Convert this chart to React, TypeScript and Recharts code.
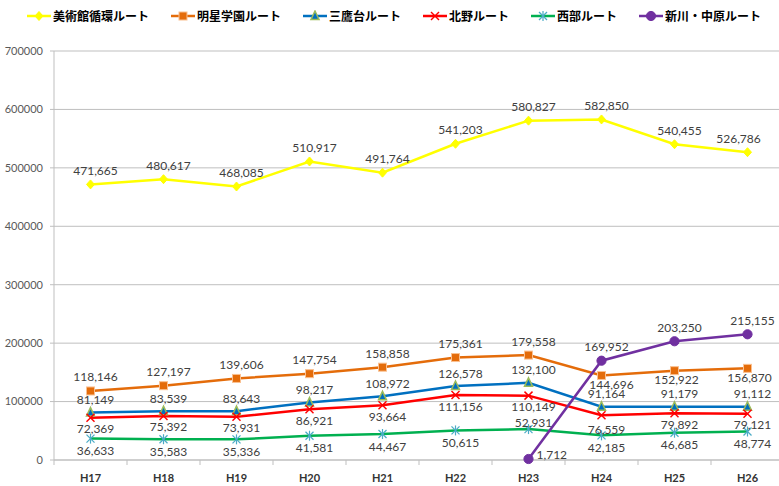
import React from "react";
import { CartesianGrid, LabelList, Line, LineChart, XAxis, YAxis } from "recharts";

// fiscal years (Heisei)
const years = ["H17", "H18", "H19", "H20", "H21", "H22", "H23", "H24", "H25", "H26"];

// riders per year, per route
const bijutsukan = [471665, 480617, 468085, 510917, 491764, 541203, 580827, 582850, 540455, 526786];
const meisei = [118146, 127197, 139606, 147754, 158858, 175361, 179558, 144696, 152922, 156870];
const mitakadai = [81149, 83539, 83643, 98217, 108972, 126578, 132100, 91164, 91179, 91112];
const kitano = [72369, 75392, 73931, 86921, 93664, 111156, 110149, 76559, 79892, 79121];
const seibu = [36633, 35583, 35336, 41581, 44467, 50615, 52931, 42185, 46685, 48774];
const shinkawa = [null, null, null, null, null, null, 1712, 169952, 203250, 215155];

const yTicks = [0, 100000, 200000, 300000, 400000, 500000, 600000, 700000];

const data = years.map((year, i) => ({
  year,
  bijutsukan: bijutsukan[i],
  meisei: meisei[i],
  mitakadai: mitakadai[i],
  kitano: kitano[i],
  seibu: seibu[i],
  shinkawa: shinkawa[i],
}));

type Marker = "diamond" | "square" | "triangle" | "cross" | "star" | "circle";

const series: { key: string; name: string; color: string; marker: Marker }[] = [
  { key: "bijutsukan", name: "美術館循環ルート", color: "#FFFF00", marker: "diamond" },
  { key: "meisei", name: "明星学園ルート", color: "#E46C0A", marker: "square" },
  { key: "mitakadai", name: "三鷹台ルート", color: "#0070C0", marker: "triangle" },
  { key: "kitano", name: "北野ルート", color: "#FF0000", marker: "cross" },
  { key: "seibu", name: "西部ルート", color: "#00B050", marker: "star" },
  { key: "shinkawa", name: "新川・中原ルート", color: "#7030A0", marker: "circle" },
];

const FONT = "Lato, 'Open Sans', sans-serif";
const JP_FONT = "'Noto Sans CJK JP', 'Noto Sans', sans-serif";
const HALF_BAND = 36.5; // half a category slot; x-axis ticks sit between categories

function markerShape(type: Marker, color: string, cx: number, cy: number, key?: React.Key) {
  const r = 4;
  switch (type) {
    case "diamond":
      return (
        <polygon key={key} points={`${cx},${cy - r - 0.5} ${cx + r},${cy} ${cx},${cy + r + 0.5} ${cx - r},${cy}`} fill={color} stroke={color} />
      );
    case "square":
      return <rect key={key} x={cx - r} y={cy - r} width={2 * r} height={2 * r} fill={color} stroke="#FAC090" strokeWidth={1} />;
    case "triangle":
      return (
        <polygon key={key} points={`${cx},${cy - r - 1} ${cx + r},${cy + r - 0.5} ${cx - r},${cy + r - 0.5}`} fill={color} stroke="#9BBB59" strokeWidth={1.5} />
      );
    case "cross":
      return (
        <g key={key} stroke={color} strokeWidth={1.5}>
          <line x1={cx - r} y1={cy - r} x2={cx + r} y2={cy + r} />
          <line x1={cx - r} y1={cy + r} x2={cx + r} y2={cy - r} />
        </g>
      );
    case "star":
      return (
        <g key={key} stroke="#4BACC6" strokeWidth={1.2}>
          <line x1={cx - r} y1={cy - r} x2={cx + r} y2={cy + r} />
          <line x1={cx - r} y1={cy + r} x2={cx + r} y2={cy - r} />
          <line x1={cx} y1={cy - r - 1} x2={cx} y2={cy + r + 1} />
        </g>
      );
    default:
      return <circle key={key} cx={cx} cy={cy} r={4.6} fill={color} stroke={color} />;
  }
}

const fmt = (v: number) => v.toLocaleString("en-US");

// where each series puts its data labels (above / below the point, with a few Excel-style nudges)
function labelFor(key: string) {
  return (props: any) => {
    const { x, y, value, index } = props;
    if (value == null || x == null || y == null) return null;
    let dx = 5;
    let dy = -14;
    let anchor: "middle" | "start" = "middle";
    if (key === "bijutsukan" && index === 9) dx = -9;
    if (key === "meisei" && index >= 7) {
      dy = 9;
      dx = index === 7 ? 10 : 2;
    }
    if (key === "mitakadai") dy = -13;
    if (key === "kitano") dy = index === 7 ? 14 : 11;
    if (key === "seibu") dy = index === 6 ? -7 : 12;
    if (key === "shinkawa" && index === 6) {
      dx = 8;
      dy = -4;
      anchor = "start";
    }
    return (
      <text
        key={`${key}-${index}`}
        x={x + dx}
        y={y + dy}
        textAnchor={anchor}
        dominantBaseline="central"
        fontFamily={FONT}
        fontSize={12}
        fill="#404040"
      >
        {fmt(value)}
      </text>
    );
  };
}

const XTick = (props: any) => {
  const { x, y, payload } = props;
  return (
    <g>
      <line x1={x - HALF_BAND} x2={x - HALF_BAND} y1={y} y2={y + 5} stroke="#BFBFBF" />
      <text x={x} y={y + 17} textAnchor="middle" dominantBaseline="central" fontFamily={FONT} fontWeight={700} fontSize={11} fill="#333">
        {payload.value}
      </text>
    </g>
  );
};

function Legend() {
  return (
    <div
      style={{
        position: "absolute",
        top: 10,
        left: 27,
        display: "flex",
        gap: 22,
        alignItems: "center",
        height: 12,
      }}
    >
      {series.map((s) => (
        <div key={s.key} style={{ display: "flex", alignItems: "center" }}>
          <svg width={24} height={12} style={{ marginRight: 2 }}>
            <line x1={0} x2={24} y1={6} y2={6} stroke={s.color} strokeWidth={2.5} />
            {markerShape(s.marker, s.color, 12, 6)}
          </svg>
          <span style={{ fontFamily: JP_FONT, fontWeight: 700, fontSize: 12, lineHeight: "12px", color: "#000" }}>{s.name}</span>
        </div>
      ))}
    </div>
  );
}

export default function App() {
  return (
    <div style={{ position: "absolute", top: 0, left: 0, width: 779, height: 486, overflow: "hidden", background: "#fff" }}>
      <LineChart width={790} height={486} data={data} margin={{ top: 51, right: 6, left: 4, bottom: 0 }}>
        <CartesianGrid vertical={false} stroke="#BFBFBF" />
        <XAxis
          dataKey="year"
          height={26}
          padding={{ left: HALF_BAND, right: HALF_BAND }}
          axisLine={{ stroke: "#BFBFBF" }}
          tickLine={false}
          tickSize={0}
          tickMargin={0}
          interval={0}
          tick={<XTick />}
        />
        <YAxis
          width={50}
          domain={[0, 700000]}
          ticks={yTicks}
          interval={0}
          axisLine={{ stroke: "#BFBFBF" }}
          tickLine={{ stroke: "#BFBFBF" }}
          tickSize={4}
          tickMargin={7}
          tick={{ fontFamily: FONT, fontSize: 11, fill: "#595959" }}
        />
        {series.map((s) => (
          <Line
            key={s.key}
            dataKey={s.key}
            name={s.name}
            type="linear"
            stroke={s.color}
            strokeWidth={2.5}
            isAnimationActive={false}
            activeDot={false}
            dot={(p: any) =>
              p.cx == null || p.cy == null || p.value == null ? (
                <g key={`${s.key}-dot-${p.index}`} />
              ) : (
                markerShape(s.marker, s.color, p.cx, p.cy, `${s.key}-dot-${p.index}`)
              )
            }
          >
            <LabelList dataKey={s.key} content={labelFor(s.key)} />
          </Line>
        ))}
      </LineChart>
      <Legend />
    </div>
  );
}
